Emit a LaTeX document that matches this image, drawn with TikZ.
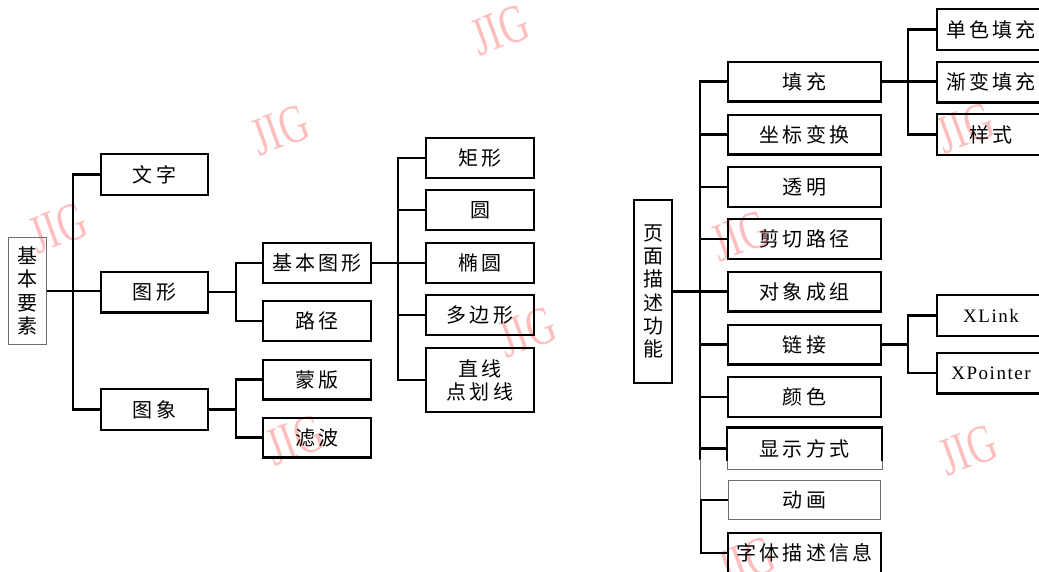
\documentclass[tikz,border=0pt]{standalone}
\usepackage{fontspec}
\newfontfamily\cjk[LetterSpace=16]{Noto Sans CJK SC}
\newfontfamily\cjkv{Noto Sans CJK SC}
\newfontfamily\latinf[LetterSpace=8]{Liberation Serif}
\newfontfamily\wmfont{Liberation Serif}
\definecolor{wmpink}{RGB}{255,190,190}
\definecolor{thingray}{RGB}{110,110,110}
\begin{document}
\begin{tikzpicture}[x=1pt,y=-1pt,
  bx/.style={draw, line width=2.3pt, inner sep=0pt, align=center,
             font=\cjk\fontsize{20}{23}\selectfont},
  abox/.style={bx, minimum width=106.7pt, minimum height=40.7pt},
  bbox/.style={bx, minimum width=107.7pt, minimum height=39.7pt},
  dbox/.style={bx, minimum width=152.7pt, minimum height=39.7pt},
  ebox/.style={bx, minimum width=107.7pt, minimum height=40.7pt},
  fbox/.style={ebox, font=\latinf\fontsize{19}{22}\selectfont},
  rootbox/.style={draw, inner sep=0pt, align=center,
             font=\cjkv\fontsize{20}{23.3}\selectfont},
  conn/.style={line width=2.3pt},
  thinconn/.style={line width=0.9pt, draw=thingray},
  wm/.style={text=wmpink, rotate=20, xscale=0.72,
             font=\wmfont\fontsize{54}{54}\selectfont}
]
\clip (0,0) rectangle (1039,571);
\fill[white] (0,0) rectangle (1039,571);

% watermarks
\node[wm] (wm1) at (500,30) {JIG};
\node[wm] (wm2) at (280,130) {JIG};
\node[wm] (wm3) at (58,228) {JIG};
\node[wm] (wm4) at (527,332) {JIG};
\node[wm] (wm5) at (295,440) {JIG};
\node[wm] (wm6) at (740,236) {JIG};
\node[wm] (wm7) at (965,128) {JIG};
\node[wm] (wm8) at (968,450) {JIG};
\node[wm] (wm9) at (746,562) {JIG};

% ---------- left tree ----------
\node[rootbox, line width=0.9pt, draw=thingray, minimum width=38pt, minimum height=107pt]
  (r1) at (27.5,291) {基\\本\\要\\素};

\node[abox] (A1) at (154.5,174.5) {文字};
\node[abox] (A2) at (154.5,292) {图形};
\node[abox] (A3) at (154.5,409.5) {图象};

\node[bbox] (B1) at (317,263) {基本图形};
\node[bbox] (B2) at (317,321) {路径};
\node[bbox] (B3) at (317,379.5) {蒙版};
\node[bbox] (B4) at (317,437.5) {滤波};

\node[bbox] (C1) at (480,158) {矩形};
\node[bbox] (C2) at (480,210) {圆};
\node[bbox] (C3) at (480,263) {椭圆};
\node[bbox] (C4) at (480,315) {多边形};
\node[bbox, minimum height=63.7pt] (C5) at (480,380) {直线\\点划线};

\draw[conn] (r1.east) -- (r1.east -| A2.west);
\draw[conn] (A1.west) -- ++(-27,0) |- (A3.west);

\draw[conn] (A2.east) -- ++(27,0);
\draw[conn] (B1.west) -- ++(-26,0) |- (B2.west);
\draw[conn] (A3.east) -- ++(27,0);
\draw[conn] (B3.west) -- ++(-26,0) |- (B4.west);

\draw[conn] (B1.east) -- (C3.west);
\draw[conn] (C1.west) -- ++(-27,0) |- (C5.west);
\draw[conn] (C2.west) -- ++(-27,0);
\draw[conn] (C4.west) -- ++(-27,0);

% ---------- right tree ----------
\node[rootbox, line width=1.8pt, minimum width=38pt, minimum height=183pt]
  (R) at (653,291.5) {页\\面\\描\\述\\功\\能};

\node[dbox] (D1) at (804.5,81.5) {填充};
\node[dbox] (D2) at (804.5,134.5) {坐标变换};
\node[dbox] (D3) at (804.5,187) {透明};
\node[dbox] (D4) at (804.5,239) {剪切路径};
\node[dbox] (D5) at (804.5,291.5) {对象成组};
\node[dbox] (D6) at (804.5,344.5) {链接};
\node[dbox] (D7) at (804.5,397) {颜色};
\begin{scope}
  \clip (720,420) rectangle (890,461);
  \node[dbox, draw=none] (D8) at (804.5,448.5) {\raisebox{-5pt}{显示方式}};
\end{scope}
\draw[line width=0.9pt, draw=thingray] (D8.south west) rectangle (D8.north east);
\draw[line width=2.3pt] ([yshift=9pt]D8.south west) -- (D8.north west)
  -- (D8.north east) -- ([yshift=9pt]D8.south east);
\node[dbox, line width=0.9pt, draw=thingray] (D9) at (804.5,500) {动画};
\node[dbox] (D10) at (804.5,553) {\raisebox{-5pt}{字体描述信息}};

\node[ebox] (E1) at (991,29.5) {单色填充};
\node[ebox] (E2) at (991,82) {渐变填充};
\node[ebox] (E3) at (991,134.5) {样式};

\node[fbox] (F1) at (991,315.5) {XLink};
\node[fbox] (F2) at (991,373) {XPointer};

\draw[conn] (R.east) -- (R.east -| D5.west);
\draw[conn] (D1.west) -- ++(-27,0) |- (D8.west);
\draw[conn] (D8.west) ++(-27,0) -- ++(0,11);
\draw[thinconn] (D8.west) ++(-27,10) -- ++(0,42);
\draw[conn] (D9.west) -- ++(-27,0) |- (D10.west);
\foreach \n in {D2,D3,D4,D6,D7} \draw[conn] (\n.west) -- ++(-27,0);

\draw[conn] (D1.east) -- (D1.east -| E2.west);
\draw[conn] (E1.west) -- ++(-28,0) |- (E3.west);

\draw[conn] (D6.east) -- ++(26,0);
\draw[conn] (F1.west) -- ++(-28,0) |- (F2.west);
\end{tikzpicture}
\end{document}
